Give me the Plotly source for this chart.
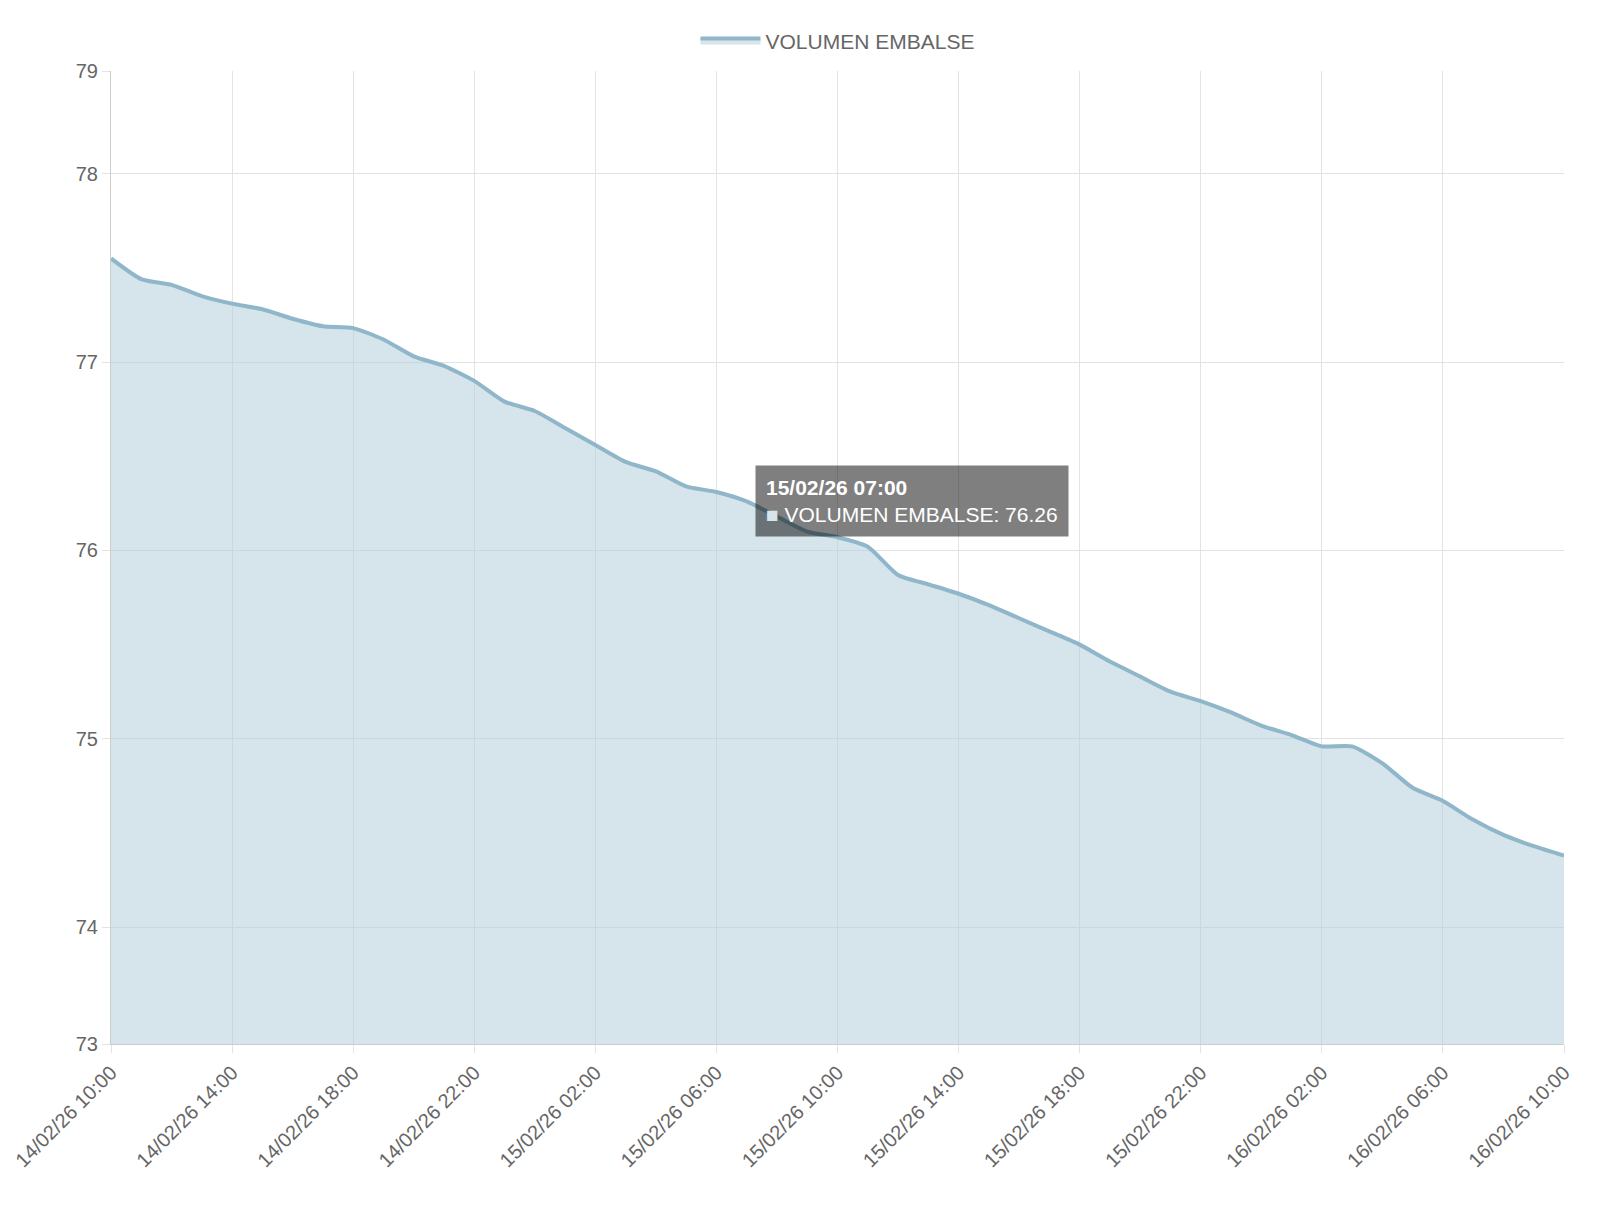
import plotly.graph_objects as go
import pandas as pd

times = pd.date_range("2026-02-14 10:00", "2026-02-16 10:00", freq="h")
values = [77.55,77.44,77.41,77.35,77.31,77.28,77.23,77.19,77.18,77.12,77.03,76.98,
          76.90,76.79,76.74,76.65,76.56,76.47,76.42,76.34,76.31,76.26,76.18,76.10,
          76.07,76.02,75.87,75.82,75.77,75.71,75.64,75.57,75.50,75.41,75.33,75.25,
          75.20,75.14,75.07,75.02,74.96,74.96,74.87,74.74,74.67,74.57,74.49,74.43,74.38]
ytickvals = [73.38,74,75,76,77,78,78.545]
yticktext = ["73","74","75","76","77","78","79"]
xtickvals = times[::4]
xticktext = [t.strftime("%d/%m/%y %H:%M") for t in xtickvals]

fig = go.Figure(go.Scatter(x=times, y=values, mode="lines", name="VOLUMEN EMBALSE",
    line=dict(color="#8fb6c9", width=4, shape="spline", smoothing=0.6),
    fill="tozeroy", fillcolor="rgba(180,205,218,0.55)"))
fig.update_layout(width=1600, height=1228, plot_bgcolor="white", paper_bgcolor="white",
    margin=dict(l=103, r=44, t=60, b=192),
    font=dict(family="Liberation Sans, Arial", size=20, color="#666"),
    showlegend=True,
    legend=dict(orientation="h", x=0.5, xanchor="center", y=1.01, yanchor="bottom",
                itemwidth=60, font=dict(size=21, color="#666")))
fig.update_xaxes(range=[times[0], times[-1]], tickvals=xtickvals, ticktext=xticktext,
    tickangle=-45, showgrid=True, gridcolor="#e3e3e3", showline=True, linecolor="#ccc",
    ticks="outside", tickcolor="#e3e3e3", ticklen=8, automargin=False)
fig.update_yaxes(range=[73.38, 78.545], tickvals=ytickvals, ticktext=yticktext,
    showgrid=True, gridcolor="#e3e3e3", showline=True, linecolor="#ccc",
    ticks="outside", tickcolor="#e3e3e3", ticklen=8, automargin=False)
i = 21
fig.add_annotation(x=times[i], y=values[i], xanchor="left", yanchor="middle", xshift=8,
    text="<b>15/02/26 07:00</b><br><span style='color:#d6e4ec'>■</span> VOLUMEN EMBALSE: 76.26",
    showarrow=False, align="left", bgcolor="rgba(0,0,0,0.5)", borderpad=10,
    font=dict(color="white", size=21, family="Liberation Sans, Arial"))
fig.write_html("out.html")
